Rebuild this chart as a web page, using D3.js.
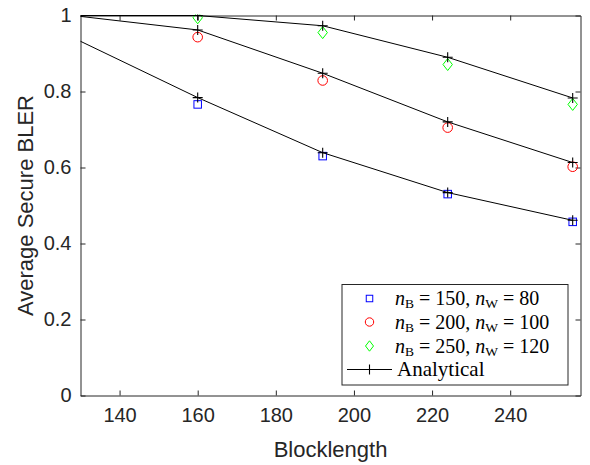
<!DOCTYPE html>
<html>
<head>
<meta charset="utf-8">
<script src="https://cdn.jsdelivr.net/npm/d3@7"></script>
<style>
  html, body { margin: 0; padding: 0; background: #fff; }
  svg { display: block; }
</style>
</head>
<body>
<svg id="chart" width="590" height="465"></svg>
<script>
// Blocklengths of the simulated points and of the analytical curves
const simX = [160, 192, 224, 256];
const anaX = [128, 160, 192, 224, 256];

// Simulated average secure BLER
const simB150 = [0.766, 0.630, 0.530, 0.457];
const simB200 = [0.943, 0.829, 0.705, 0.602];
const simB250 = [0.994, 0.955, 0.871, 0.766];

// Analytical approximation
const anaB150 = [0.942, 0.784, 0.639, 0.534, 0.461];
const anaB200 = [1.000, 0.962, 0.848, 0.720, 0.613];
const anaB250 = [1.000, 1.000, 0.973, 0.890, 0.783];

const xTicks = [140, 160, 180, 200, 220, 240];
const yTicks = [0, 0.2, 0.4, 0.6, 0.8, 1];
const yTickLabels = ["0", "0.2", "0.4", "0.6", "0.8", "1"];

const legendEntries = [
  { nb: "150", nw: "80", shape: "square", color: "#0000ff" },
  { nb: "200", nw: "100", shape: "circle", color: "#ff0000" },
  { nb: "250", nw: "120", shape: "diamond", color: "#00ff00" }
];

const svg = d3.select("#chart");
const axisColor = "#262626";
const sansFont = "'Liberation Sans', Arial, Helvetica, sans-serif";
const serifFont = "'Liberation Serif', 'Times New Roman', serif";

const pLeft = 80.5, pRight = 580.5, pTop = 15.5, pBottom = 395.5;

const x = d3.scaleLinear().domain([130, 258]).range([pLeft, pRight]);
const y = d3.scaleLinear().domain([0, 1]).range([pBottom, pTop]);

svg.append("defs").append("clipPath").attr("id", "plotClip")
  .append("rect").attr("x", pLeft).attr("y", pTop - 1)
  .attr("width", pRight - pLeft).attr("height", pBottom - pTop + 1);

// Axes box with inward ticks on all four sides
const tickLen = 5;
const axes = svg.append("g");
axes.append("g").attr("transform", `translate(0,${pBottom})`)
  .call(d3.axisBottom(x).tickValues(xTicks).tickSizeInner(-tickLen).tickSizeOuter(0).tickPadding(12));
axes.append("g").attr("transform", `translate(0,${pTop})`)
  .call(d3.axisTop(x).tickValues(xTicks).tickSizeInner(-tickLen).tickSizeOuter(0).tickFormat(""));
axes.append("g").attr("transform", `translate(${pLeft},0)`)
  .call(d3.axisLeft(y).tickValues(yTicks).tickSizeInner(-tickLen).tickSizeOuter(0).tickPadding(9)
    .tickFormat((d, i) => yTickLabels[i]));
axes.append("g").attr("transform", `translate(${pRight},0)`)
  .call(d3.axisRight(y).tickValues(yTicks).tickSizeInner(-tickLen).tickSizeOuter(0).tickFormat(""));
axes.selectAll("path.domain").attr("stroke", axisColor).attr("stroke-width", 1);
axes.selectAll(".tick line").attr("stroke", axisColor).attr("stroke-width", 1);
axes.selectAll(".tick text").attr("fill", axisColor)
  .style("font-family", sansFont).style("font-size", "20px");

// Data layer
const plot = svg.append("g").attr("clip-path", "url(#plotClip)");
const line = d3.line().x((d, i) => x(anaX[i])).y(d => y(d));

function drawMarker(g, shape, cx, cy, color, s) {
  if (shape === "square") {
    g.append("rect").attr("x", cx - s.sq / 2).attr("y", cy - s.sq / 2)
      .attr("width", s.sq).attr("height", s.sq)
      .attr("fill", "none").attr("stroke", color).attr("stroke-width", 1);
  } else if (shape === "circle") {
    g.append("circle").attr("cx", cx).attr("cy", cy).attr("r", s.r)
      .attr("fill", "none").attr("stroke", color).attr("stroke-width", 1);
  } else if (shape === "diamond") {
    g.append("path")
      .attr("d", `M${cx},${cy - s.dh}L${cx + s.dw},${cy}L${cx},${cy + s.dh}L${cx - s.dw},${cy}Z`)
      .attr("fill", "none").attr("stroke", color).attr("stroke-width", 1);
  } else if (shape === "plus") {
    g.append("path")
      .attr("d", `M${cx - s.p},${cy}H${cx + s.p}M${cx},${cy - s.p}V${cy + s.p}`)
      .attr("fill", "none").attr("stroke", color).attr("stroke-width", 1.1);
  }
}

const plotSize = { sq: 7.5, r: 4.8, dw: 4.7, dh: 6, p: 5 };
const legSize = { sq: 6.5, r: 4.2, dw: 4, dh: 5.2, p: 5 };

const simSeries = [simB150, simB200, simB250];
simSeries.forEach((vals, k) => {
  vals.forEach((v, i) => drawMarker(plot, legendEntries[k].shape, x(simX[i]), y(v), legendEntries[k].color, plotSize));
});

[anaB150, anaB200, anaB250].forEach(vals => {
  plot.append("path").datum(vals).attr("d", line)
    .attr("fill", "none").attr("stroke", "#000").attr("stroke-width", 1);
  vals.forEach((v, i) => {
    if (anaX[i] >= 130) drawMarker(plot, "plus", x(anaX[i]), y(v), "#000", plotSize);
  });
});

// Axis labels
svg.append("text").attr("x", (pLeft + pRight) / 2).attr("y", 457)
  .attr("text-anchor", "middle").attr("fill", axisColor)
  .style("font-family", sansFont).style("font-size", "22px").text("Blocklength");
svg.append("text").attr("transform", `translate(33,${(pTop + pBottom) / 2}) rotate(-90)`)
  .attr("text-anchor", "middle").attr("fill", axisColor)
  .style("font-family", sansFont).style("font-size", "22px").text("Average Secure BLER");

// Legend
const leg = svg.append("g");
const lx = 342, ly = 284.5, lw = 226, lh = 100.5;
leg.append("rect").attr("x", lx).attr("y", ly).attr("width", lw).attr("height", lh)
  .attr("fill", "#fff").attr("stroke", axisColor).attr("stroke-width", 1);
const rowY = [298.5, 322, 346, 369.5];
const markerX = 369.5, textX = 395;

legendEntries.forEach((e, i) => {
  drawMarker(leg, e.shape, markerX, rowY[i], e.color, legSize);
  const t = leg.append("text").attr("x", textX).attr("y", rowY[i] + 6.5)
    .attr("fill", "#000").style("font-family", serifFont).style("font-size", "20px");
  t.append("tspan").attr("font-style", "italic").text("n");
  t.append("tspan").attr("font-size", "13.5px").attr("dy", 3).text("B");
  t.append("tspan").attr("dy", -3).text(` = ${e.nb}, `);
  t.append("tspan").attr("font-style", "italic").text("n");
  t.append("tspan").attr("font-size", "13.5px").attr("dy", 3).text("W");
  t.append("tspan").attr("dy", -3).text(` = ${e.nw}`);
});
leg.append("line").attr("x1", 347).attr("x2", 392).attr("y1", rowY[3]).attr("y2", rowY[3])
  .attr("stroke", "#000").attr("stroke-width", 1);
drawMarker(leg, "plus", markerX, rowY[3], "#000", legSize);
leg.append("text").attr("x", 397).attr("y", rowY[3] + 6.5)
  .attr("fill", "#000").style("font-family", serifFont).style("font-size", "21px").text("Analytical");
</script>
</body>
</html>
